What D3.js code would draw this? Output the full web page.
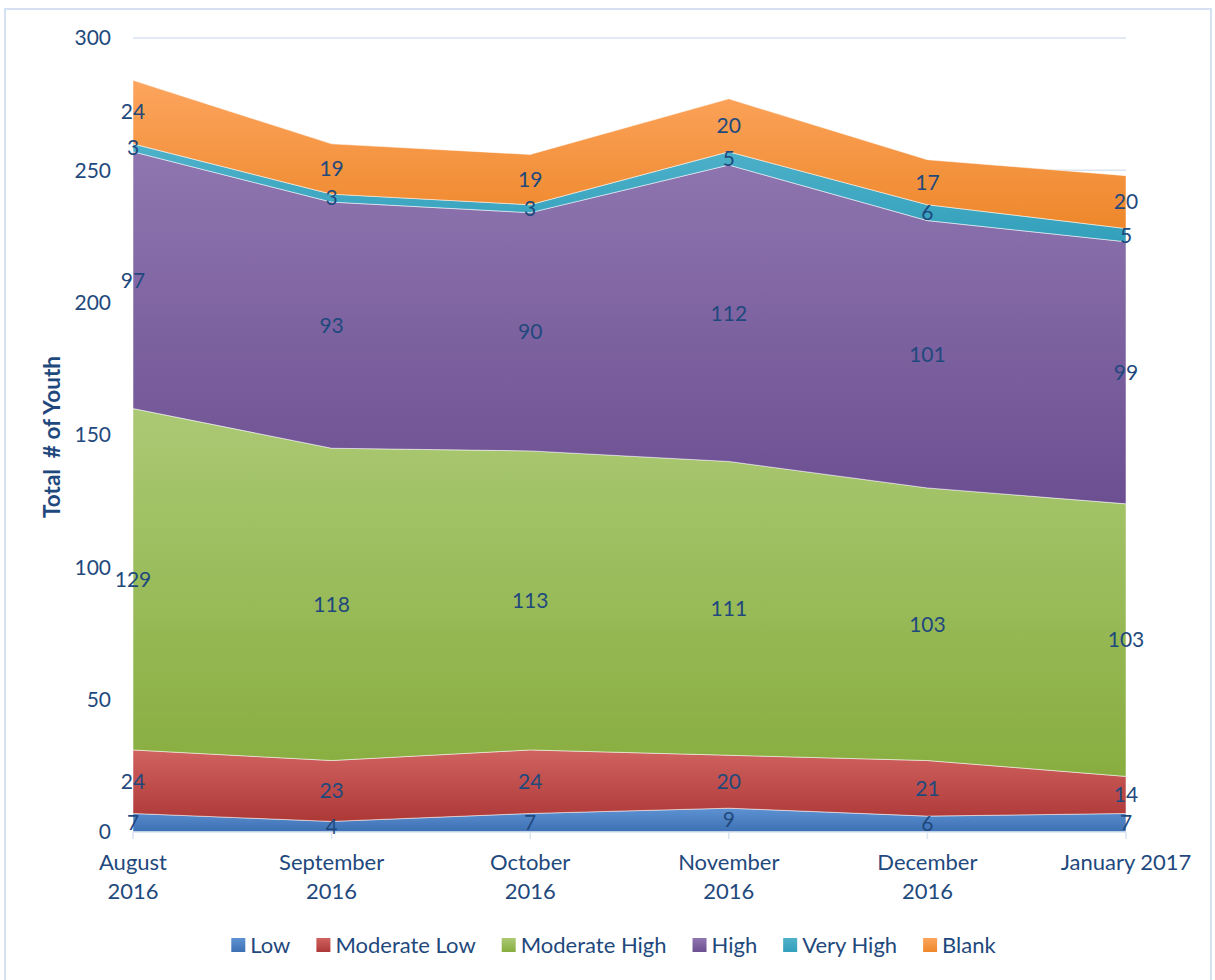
<!DOCTYPE html>
<html><head><meta charset="utf-8">
<script src="https://cdn.jsdelivr.net/npm/d3@7"></script>
<style>body{margin:0;background:#fff}svg{display:block}</style>
</head><body>
<script>
const months = ["August 2016","September 2016","October 2016","November 2016","December 2016","January 2017"];
const monthLines = [["August","2016"],["September","2016"],["October","2016"],["November","2016"],["December","2016"],["January 2017"]];
const seriesNames = ["Low","Moderate Low","Moderate High","High","Very High","Blank"];
const low = [7,4,7,9,6,7];
const moderateLow = [24,23,24,20,21,14];
const moderateHigh = [129,118,113,111,103,103];
const high = [97,93,90,112,101,99];
const veryHigh = [3,3,3,5,6,5];
const blank = [24,19,19,20,17,20];
const yTicks = [0,50,100,150,200,250,300];
const colorsTop = ["#5d92d3","#d0625f","#abc974","#8f76b0","#4fb1ca","#fca55e"];
const colorsBottom = ["#3d70b2","#ad3937","#88ad3f","#6c4f91","#33a0bb","#ee872a"];

const W=1215,H=980;
const svg=d3.select("body").append("svg").attr("width",W).attr("height",H);
const font="Lato, 'Open Sans', sans-serif";
const txt="#1f497d";
svg.append("rect").attr("x",5).attr("y",9).attr("width",1206).attr("height",980).attr("fill","none").attr("stroke","#d6e2f3").attr("stroke-width",2);

const x=d3.scalePoint().domain(months).range([133,1126]);
const y=d3.scaleLinear().domain([0,300]).range([832,38]);

const table=months.map((m,i)=>({month:m,"Low":low[i],"Moderate Low":moderateLow[i],"Moderate High":moderateHigh[i],"High":high[i],"Very High":veryHigh[i],"Blank":blank[i]}));
const stacked=d3.stack().keys(seriesNames)(table);

// grid
svg.append("g").selectAll("line").data(yTicks.filter(t=>t>0)).join("line")
 .attr("x1",133).attr("x2",1126).attr("y1",d=>y(d)).attr("y2",d=>y(d))
 .attr("stroke","#d9e4f2").attr("stroke-width",1.5);

const defs=svg.append("defs");
seriesNames.forEach((s,i)=>{
  const g=defs.append("linearGradient").attr("id","g"+i).attr("x1",0).attr("y1",0).attr("x2",0).attr("y2",1);
  g.append("stop").attr("offset","0%").attr("stop-color",colorsTop[i]);
  g.append("stop").attr("offset","100%").attr("stop-color",colorsBottom[i]);
});

const area=d3.area().x(d=>x(d.data.month)).y0(d=>y(d[0])).y1(d=>y(d[1]));
svg.append("g").selectAll("path").data(stacked).join("path")
 .attr("d",area).attr("fill",(d,i)=>`url(#g${i})`)
 .attr("stroke","#ffffff").attr("stroke-opacity",0.5).attr("stroke-width",1);

// x axis line + ticks
svg.append("line").attr("x1",133).attr("x2",1126).attr("y1",y(0)).attr("y2",y(0)).attr("stroke","#d9e4f2").attr("stroke-width",1.5);
svg.append("g").selectAll("line").data(months).join("line")
 .attr("x1",d=>x(d)).attr("x2",d=>x(d)).attr("y1",y(0)).attr("y2",y(0)+7).attr("stroke","#d9e4f2").attr("stroke-width",1.5);

// y tick labels
svg.append("g").selectAll("text").data(yTicks).join("text")
 .attr("x",111).attr("y",d=>y(d)).attr("dy","0.35em").attr("text-anchor","end")
 .attr("font-family",font).attr("font-size",21).attr("fill",txt).text(d=>d);

// x labels
const xl=svg.append("g").selectAll("text").data(months).join("text")
 .attr("text-anchor","middle").attr("font-family",font).attr("font-size",22).attr("fill",txt)
 .attr("transform",d=>`translate(${x(d)},870)`);
xl.each(function(d,i){
  const t=d3.select(this);
  monthLines[i].forEach((ln,j)=>t.append("tspan").attr("x",0).attr("y",j*29).text(ln));
});

// data labels
stacked.forEach((s,si)=>{
  svg.append("g").selectAll("text").data(s).join("text")
   .attr("x",d=>x(d.data.month)).attr("y",d=>y((d[0]+d[1])/2)).attr("dy","0.35em")
   .attr("text-anchor","middle").attr("font-family",font).attr("font-size",21).attr("fill",txt)
   .text(d=>d.data[s.key]);
});

// y title
svg.append("text").attr("transform","translate(60,437) rotate(-90)").attr("text-anchor","middle")
 .attr("font-family",font).attr("font-size",22.5).attr("font-weight","bold").attr("fill",txt)
 .attr("xml:space","preserve").text("Total  # of Youth");

// legend
const legend=svg.append("g");
let lx=0;
seriesNames.forEach((s,i)=>{
  const g=legend.append("g");
  g.append("rect").attr("x",0).attr("y",-7).attr("width",14).attr("height",14).attr("fill",`url(#g${i})`);
  const t=g.append("text").attr("x",19).attr("y",0).attr("dy","0.35em").attr("font-family",font).attr("font-size",22).attr("fill",txt).text(s);
  const w=19+t.node().getComputedTextLength();
  g.attr("transform",`translate(${lx},945)`);
  lx+=w+26;
});
const total=lx-26;
legend.attr("transform",`translate(${(W-total)/2+6},0)`);
</script>
</body></html>
